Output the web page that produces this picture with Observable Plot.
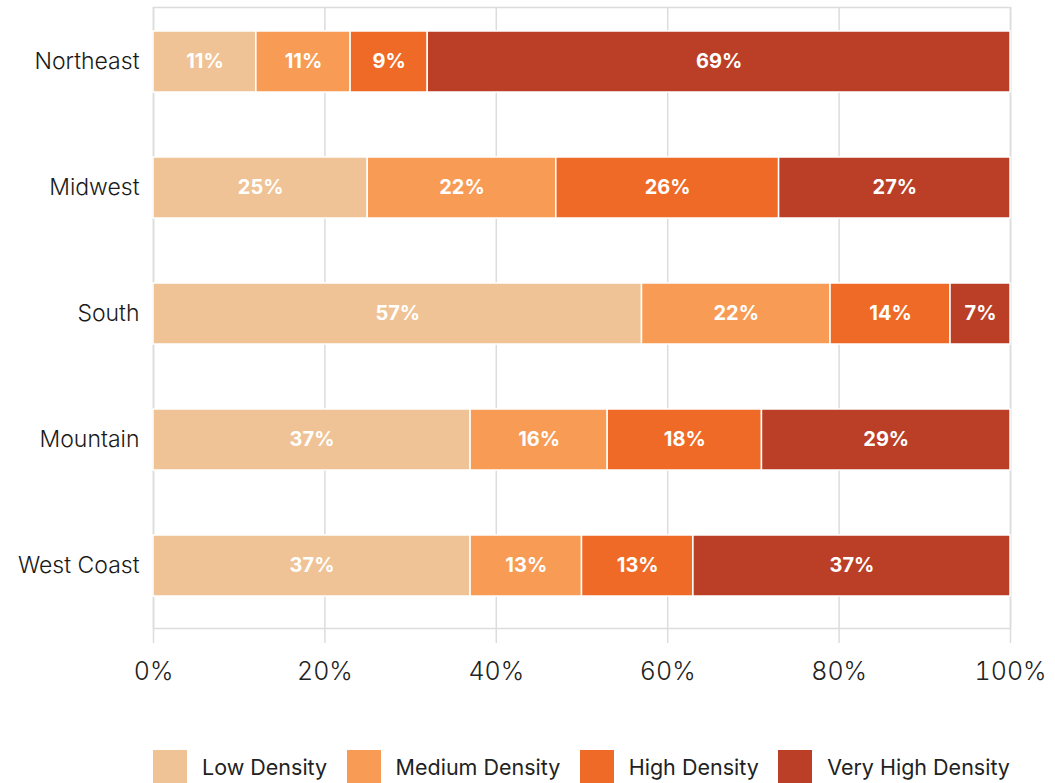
<!DOCTYPE html>
<html>
<head>
<meta charset="utf-8">
<script src="https://cdn.jsdelivr.net/npm/d3@7"></script>
<script src="https://cdn.jsdelivr.net/npm/@observablehq/plot@0.6"></script>
<style>
  html, body { margin: 0; padding: 0; background: #fff; }
  body { width: 1055px; height: 783px; overflow: hidden; font-family: Inter, "Noto Sans", sans-serif; }
  #legend { position: absolute; left: 153px; top: 750px; width: 857px; display: flex; justify-content: space-between; align-items: center; }
  .item { display: flex; align-items: center; }
  .sw { width: 34px; height: 34px; margin-right: 15px; }
  .lab { font-size: 21.5px; color: #222; }
</style>
</head>
<body>
<div id="chart"></div>
<div id="legend"></div>
<script>
const regions = ["Northeast", "Midwest", "South", "Mountain", "West Coast"];
const categories = ["Low Density", "Medium Density", "High Density", "Very High Density"];
const colors = ["#EFC395", "#F79B55", "#EF6A26", "#BB3E27"];
const lowDensity = [12, 25, 57, 37, 37];
const mediumDensity = [11, 22, 22, 16, 13];
const highDensity = [9, 26, 14, 18, 13];
const veryHighDensity = [68, 27, 7, 29, 37];
const lowLabels = ["11%", "25%", "57%", "37%", "37%"];
const mediumLabels = ["11%", "22%", "22%", "16%", "13%"];
const highLabels = ["9%", "26%", "14%", "18%", "13%"];
const veryHighLabels = ["69%", "27%", "7%", "29%", "37%"];
const xTicks = [0, 20, 40, 60, 80, 100];

const seriesValues = [lowDensity, mediumDensity, highDensity, veryHighDensity];
const seriesLabels = [lowLabels, mediumLabels, highLabels, veryHighLabels];
const data = [];
regions.forEach((r, i) => {
  categories.forEach((c, j) => {
    data.push({region: r, category: c, value: seriesValues[j][i], label: seriesLabels[j][i]});
  });
});

const font = "Inter, 'Noto Sans', sans-serif";
const chart = Plot.plot({
  width: 1055,
  height: 720,
  marginLeft: 153,
  marginRight: 45,
  marginTop: 7,
  marginBottom: 92,
  style: {fontFamily: font, background: "#fff"},
  x: {domain: [0, 100], ticks: xTicks, tickFormat: d => d + "%", label: null},
  y: {domain: regions, paddingInner: 0.518, paddingOuter: 0.213, align: 0.42, label: null},
  color: {domain: categories, range: colors},
  marks: [
    Plot.gridX(xTicks, {stroke: "#dcdcdc", strokeOpacity: 1, strokeWidth: 1.5}),
    Plot.frame({stroke: "#dcdcdc", strokeWidth: 1.5}),
    Plot.axisX({ticks: xTicks, tickSize: 15, tickPadding: 19, stroke: "#dcdcdc", strokeWidth: 1.5, fontSize: 25, fontWeight: 300, fill: "#222", tickFormat: d => d + "%", label: null}),
    Plot.axisY({tickSize: 0, tickPadding: 14, fontSize: 23, fontWeight: 300, fill: "#1a1a1a", label: null}),
    Plot.barX(data, Plot.stackX({x: "value", y: "region", fill: "category", stroke: "#fff", strokeWidth: 1.5})),
    Plot.text(data, Plot.stackX({x: "value", y: "region", z: "category", text: "label", fill: "#fff", fontSize: 20, fontWeight: 700}))
  ]
});
document.getElementById("chart").appendChild(chart);

const legend = document.getElementById("legend");
categories.forEach((c, j) => {
  const item = document.createElement("div");
  item.className = "item";
  const sw = document.createElement("div");
  sw.className = "sw";
  sw.style.background = colors[j];
  const lab = document.createElement("span");
  lab.className = "lab";
  lab.textContent = c;
  item.appendChild(sw);
  item.appendChild(lab);
  legend.appendChild(item);
});
</script>
</body>
</html>
